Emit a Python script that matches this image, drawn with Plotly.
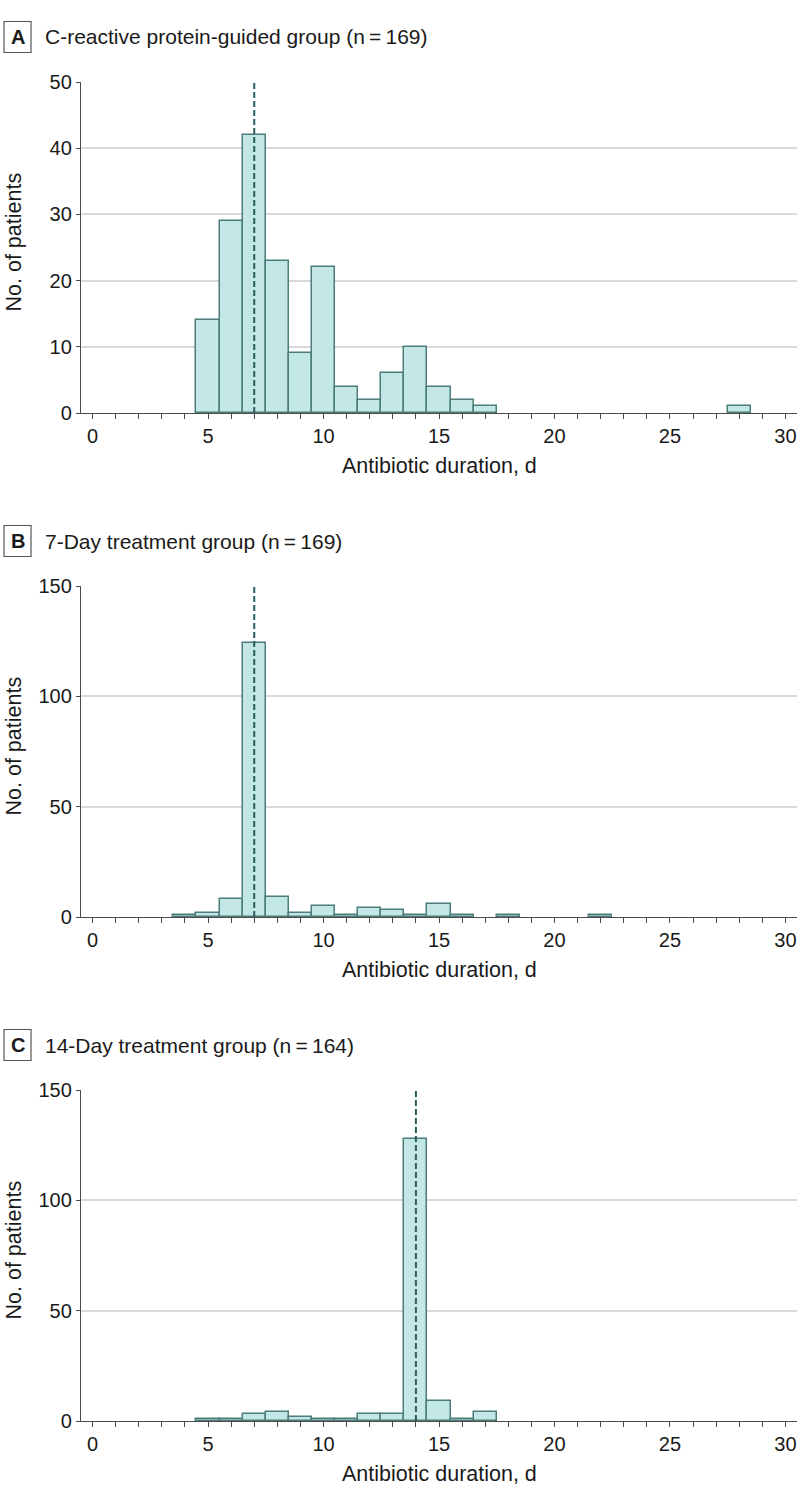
import plotly.graph_objects as go

# ---- data ----
durations_a = [5, 6, 7, 8, 9, 10, 11, 12, 13, 14, 15, 16, 17, 28]
counts_a = [14, 29, 42, 23, 9, 22, 4, 2, 6, 10, 4, 2, 1, 1]

durations_b = [4, 5, 6, 7, 8, 9, 10, 11, 12, 13, 14, 15, 16, 18, 22]
counts_b = [1, 2, 8, 124, 9, 2, 5, 1, 4, 3, 1, 6, 1, 1, 1]

durations_c = [5, 6, 7, 8, 9, 10, 11, 12, 13, 14, 15, 16, 17]
counts_c = [1, 1, 3, 4, 2, 1, 1, 3, 3, 128, 9, 1, 4]

panel_letters = ["A", "B", "C"]
panel_titles = [
    "C-reactive protein-guided group (n\u2009=\u2009169)",
    "7-Day treatment group (n\u2009=\u2009169)",
    "14-Day treatment group (n\u2009=\u2009164)",
]
reference_days = [7, 7, 14]
y_max = [50, 150, 150]
y_dtick = [10, 50, 50]
x_tickvals = list(range(0, 31))
x_ticklabels = [str(v) if v % 5 == 0 else "" for v in x_tickvals]
x_title = "Antibiotic duration, d"
y_title = "No. of patients"

# ---- layout geometry ----
W, H = 798, 1504
L, R = 81, 1
PW = W - L - R
tops = [82, 586, 1090]
bottoms = [413, 917, 1421]

FONT = "Liberation Sans"
FILL = "#c3e7e4"
EDGE = "#4b7d7a"
DASH = "#2b5c5c"
GRID = "#d9d9d9"
AXIS = "#4a4a4a"
TEXT = "#1a1a1a"


def xp(px):
    return (px - L) / PW


def yp(py):
    return 1 - py / H


fig = go.Figure()
datasets = [(durations_a, counts_a), (durations_b, counts_b), (durations_c, counts_c)]
shapes = []
annotations = []

for i, (xs, ys) in enumerate(datasets):
    n = "" if i == 0 else str(i + 1)
    xa = "x" + n
    ya = "y" + n
    fig.add_trace(go.Bar(
        x=xs, y=ys, width=1, xaxis=xa, yaxis=ya,
        marker=dict(color=FILL, line=dict(color=EDGE, width=1.5)),
        showlegend=False, hoverinfo="x+y",
    ))
    dom = [yp(bottoms[i]), yp(tops[i])]
    fig.update_layout(**{
        "xaxis" + n: dict(
            domain=[0, 1], anchor=ya, range=[-0.5, 30.5],
            tickmode="array", tickvals=x_tickvals, ticktext=x_ticklabels,
            ticks="outside", ticklen=5, tickwidth=1.3, tickcolor=AXIS,
            showline=True, linecolor=AXIS, linewidth=1.3,
            showgrid=False, zeroline=False, automargin=False,
            tickfont=dict(family=FONT, size=20, color=TEXT),
            fixedrange=True,
        ),
        "yaxis" + n: dict(
            domain=dom, anchor=xa, range=[0, y_max[i]], dtick=y_dtick[i],
            ticks="outside", ticklen=4, tickwidth=1.3, tickcolor=AXIS,
            showline=True, linecolor=AXIS, linewidth=1.3,
            showgrid=True, gridcolor=GRID, gridwidth=1.5,
            zeroline=False, automargin=False,
            tickfont=dict(family=FONT, size=20, color=TEXT),
            fixedrange=True,
        ),
    })
    # dashed reference line
    shapes.append(dict(
        type="line", xref=xa, yref=ya + " domain",
        x0=reference_days[i], x1=reference_days[i], y0=0, y1=1,
        line=dict(color=DASH, width=2, dash="6px,3px"), layer="above",
    ))
    # panel letter box
    ctr = tops[i] - 45
    shapes.append(dict(
        type="rect", xref="paper", yref="paper",
        x0=xp(4), x1=xp(31), y0=yp(ctr + 15.5), y1=yp(ctr - 15.5),
        line=dict(color="#555555", width=1.2), fillcolor="rgba(0,0,0,0)",
    ))
    annotations.append(dict(
        xref="paper", yref="paper", x=xp(17.5), y=yp(ctr),
        text="<b>" + panel_letters[i] + "</b>", showarrow=False,
        xanchor="center", yanchor="middle",
        font=dict(family=FONT, size=20, color=TEXT),
    ))
    annotations.append(dict(
        xref="paper", yref="paper", x=xp(43), y=yp(ctr),
        text=panel_titles[i], showarrow=False,
        xanchor="left", yanchor="middle",
        font=dict(family=FONT, size=21, color=TEXT),
    ))
    # axis titles
    annotations.append(dict(
        xref="paper", yref="paper", x=xp((L + W - R) / 2), y=yp(bottoms[i] + 53),
        text=x_title, showarrow=False, xanchor="center", yanchor="middle",
        font=dict(family=FONT, size=21.5, color=TEXT),
    ))
    annotations.append(dict(
        xref="paper", yref="paper", x=xp(13), y=yp((tops[i] + bottoms[i]) / 2 - 5),
        text=y_title, showarrow=False, xanchor="center", yanchor="middle",
        textangle=-90,
        font=dict(family=FONT, size=21.5, color=TEXT),
    ))

fig.update_layout(
    width=W, height=H, autosize=False,
    margin=dict(l=L, r=R, t=0, b=0, pad=0),
    paper_bgcolor="white", plot_bgcolor="white",
    bargap=0, shapes=shapes, annotations=annotations,
)

fig.write_html(
    "out.html",
    config={"displayModeBar": False},
    post_script="document.body.style.margin='0';document.body.style.padding='0';",
)
